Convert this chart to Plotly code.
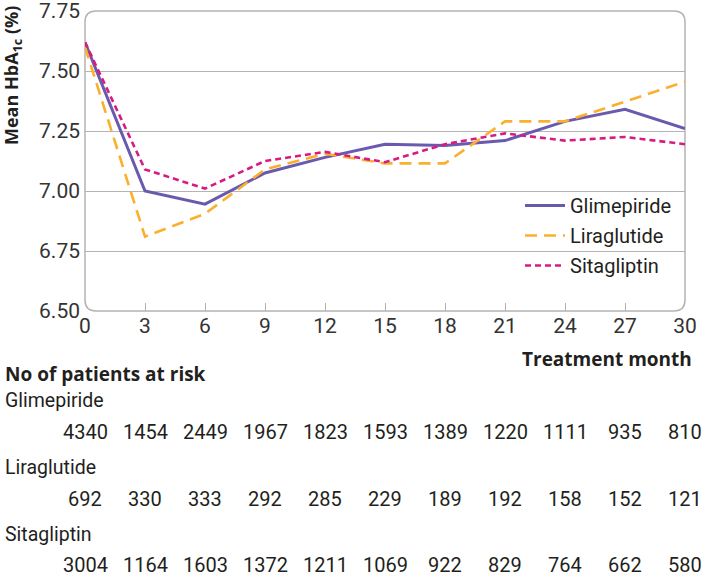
import plotly.graph_objects as go

months = [0, 3, 6, 9, 12, 15, 18, 21, 24, 27, 30]
glimepiride = [7.62, 7.00, 6.945, 7.075, 7.14, 7.195, 7.19, 7.21, 7.29, 7.34, 7.26]
liraglutide = [7.60, 6.81, 6.905, 7.09, 7.155, 7.115, 7.115, 7.29, 7.29, 7.372, 7.455]
sitagliptin = [7.62, 7.09, 7.01, 7.125, 7.163, 7.12, 7.195, 7.24, 7.21, 7.225, 7.195]

risk_glimepiride = [4340, 1454, 2449, 1967, 1823, 1593, 1389, 1220, 1111, 935, 810]
risk_liraglutide = [692, 330, 333, 292, 285, 229, 189, 192, 158, 152, 121]
risk_sitagliptin = [3004, 1164, 1603, 1372, 1211, 1069, 922, 829, 764, 662, 580]

y_ticks = [6.50, 6.75, 7.00, 7.25, 7.50, 7.75]
grid_vals = [6.75, 7.00, 7.25, 7.50]

FONT = "Roboto"
BOLD = "Open Sans"
TXT = "#231f20"
GRID = "#b4b4b4"

fig = go.Figure()
fig.add_trace(go.Scatter(x=months, y=glimepiride, mode="lines", name="Glimepiride",
                         legendgroup="g", line=dict(color="#6a5aae", width=3)))
fig.add_trace(go.Scatter(x=months, y=liraglutide, mode="lines", name="Liraglutide",
                         legendgroup="l", line=dict(color="#fbb02d", width=2.6, dash="12px,7px")))
fig.add_trace(go.Scatter(x=months, y=sitagliptin, mode="lines", name="Sitagliptin",
                         legendgroup="s", line=dict(color="#d81b82", width=2.6, dash="6px,4px")))

L, R, T, B = 85, 18, 11, 266
W, H = 703, 577
pw, ph = W - L - R, H - T - B

def py(p):
    return (H - B - p) / ph

def px(p):
    return (p - L) / pw

ann = []
ann.append(dict(text="<b>Treatment month</b>", x=px(694), y=py(359), xref="paper", yref="paper",
                xanchor="right", yanchor="middle", showarrow=False,
                font=dict(family=BOLD, size=19, color=TXT)))
ann.append(dict(text="<b>No of patients at risk</b>", x=px(3), y=py(374), xref="paper", yref="paper",
                xanchor="left", yanchor="middle", showarrow=False,
                font=dict(family=BOLD, size=19, color=TXT)))
rows = [("Glimepiride", risk_glimepiride, 400, 432),
        ("Liraglutide", risk_liraglutide, 467, 499),
        ("Sitagliptin", risk_sitagliptin, 534, 565)]
for name, vals, ly, ny in rows:
    ann.append(dict(text=name, x=px(3), y=py(ly), xref="paper", yref="paper",
                    xanchor="left", yanchor="middle", showarrow=False, font=dict(size=19.5, color=TXT)))
    for m, v in zip(months, vals):
        ann.append(dict(text=str(v), x=m, y=py(ny), xref="x", yref="paper",
                        xanchor="center", yanchor="middle", showarrow=False,
                        font=dict(size=20, color=TXT)))
ann.append(dict(text="<b>Mean HbA<sub>1c</sub> (%)</b>", x=px(12), y=py(76), xref="paper", yref="paper",
                xanchor="center", yanchor="middle", textangle=-90, showarrow=False,
                font=dict(family=BOLD, size=18, color=TXT)))

rx, ry = 11 / pw, 11 / ph
path = (f"M {rx},0 L {1-rx},0 Q 1,0 1,{ry} L 1,{1-ry} Q 1,1 {1-rx},1 "
        f"L {rx},1 Q 0,1 0,{1-ry} L 0,{ry} Q 0,0 {rx},0 Z")

fig.update_layout(
    width=W, height=H,
    margin=dict(l=L, r=R, t=T, b=B, pad=0, autoexpand=False),
    paper_bgcolor="white", plot_bgcolor="white",
    font=dict(family=FONT, color=TXT),
    showlegend=True,
    legend=dict(x=px(520), y=py(186), xanchor="left", yanchor="top",
                bgcolor="rgba(0,0,0,0)", font=dict(size=20, color=TXT),
                tracegroupgap=1, itemwidth=40),
    xaxis=dict(range=[0, 30], tickvals=months, ticktext=[str(m) for m in months],
               showgrid=False, zeroline=False, showline=False, automargin=False,
               ticks="inside", ticklen=8, tickwidth=1.2, tickcolor=GRID,
               ticklabeloverflow="allow",
               tickfont=dict(size=21, color="#333333")),
    yaxis=dict(range=[6.5, 7.75], tickvals=y_ticks, ticktext=[f"{v:.2f}" for v in y_ticks],
               showgrid=False, zeroline=False, showline=False, ticks="", automargin=False,
               ticklabeloverflow="allow",
               ticklabelstandoff=4, tickfont=dict(size=21, color="#333333")),
    yaxis2=dict(range=[6.5, 7.75], overlaying="y", tickvals=grid_vals, showticklabels=False,
                showgrid=True, gridcolor=GRID, gridwidth=1.3, zeroline=False, showline=False,
                ticks="", automargin=False),
    shapes=[dict(type="path", path=path, xref="paper", yref="paper",
                 line=dict(color=GRID, width=1.5), layer="below")],
    annotations=ann,
)
fig.add_trace(go.Scatter(x=[None], y=[None], yaxis="y2", showlegend=False, hoverinfo="skip"))

fig.write_html("out.html", config={"displayModeBar": False},
               post_script="document.body.style.margin='0';document.body.style.overflow='hidden';")
